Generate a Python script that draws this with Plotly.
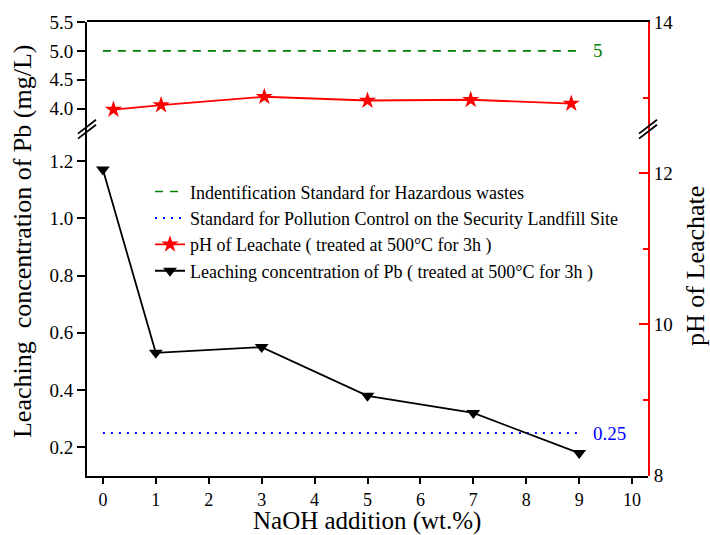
import plotly.graph_objects as go

# ---- data ----
naoh_pb = [0, 1, 3, 5, 7, 9]
pb_conc = [1.17, 0.53, 0.55, 0.38, 0.32, 0.18]
naoh_ph = [0.2, 1.1, 3.05, 5.0, 6.95, 8.85]
ph_leachate = [12.84, 12.90, 13.01, 12.96, 12.97, 12.92]
std_x = [0, 9]
hazardous_std = 5.0
landfill_std = 0.25
x_ticks = list(range(0, 11))
names = [
    "Indentification Standard for Hazardous wastes",
    "Standard for Pollution Control on the Security Landfill Site",
    "pH of Leachate ( treated at 500\u00b0C for 3h )",
    "Leaching concentration of Pb ( treated at 500\u00b0C for 3h )",
]

FONT = "Liberation Serif, Times New Roman, serif"
W, H = 710, 535
ML, MR, MT, MB = 87, 62, 20, 59
PW, PH = W - ML - MR, H - MT - MB
DBRK = 0.764  # break position (paper fraction)

fig = go.Figure()

fig.add_trace(go.Scatter(x=std_x, y=[hazardous_std] * 2, xaxis="x", yaxis="y2",
                         mode="lines", name=names[0],
                         line=dict(color="#008000", width=1.6, dash="8px,7px")))
fig.add_trace(go.Scatter(x=std_x, y=[landfill_std] * 2, xaxis="x", yaxis="y",
                         mode="lines", name=names[1],
                         line=dict(color="#0000ff", width=2, dash="2px,6px")))
fig.add_trace(go.Scatter(x=naoh_ph, y=ph_leachate, xaxis="x2", yaxis="y3",
                         mode="lines+markers", name=names[2],
                         line=dict(color="#ff0000", width=1.8),
                         marker=dict(symbol="star", size=13, color="#ff0000")))
fig.add_trace(go.Scatter(x=naoh_pb, y=pb_conc, xaxis="x", yaxis="y",
                         mode="lines+markers", name=names[3],
                         line=dict(color="black", width=1.8),
                         marker=dict(symbol="triangle-down", size=12, color="black")))

def tf(size=19):
    return dict(family=FONT, size=size, color="black")

xr = [-0.3, 10.3]

fig.update_layout(
    width=W, height=H,
    margin=dict(l=ML, r=MR, t=MT, b=MB),
    paper_bgcolor="white", plot_bgcolor="rgba(0,0,0,0)",
    font=dict(family=FONT, color="black"),
    showlegend=True,
    legend=dict(x=(150 - ML) / PW, y=(476 - 172) / PH, xanchor="left", yanchor="top",
                bgcolor="rgba(0,0,0,0)", font=dict(family=FONT, size=18, color="black"),
                tracegroupgap=0),
    xaxis=dict(domain=[0, 1], range=xr, anchor="y", tickvals=x_ticks,
               ticks="outside", ticklen=6, tickwidth=2, tickcolor="black",
               showline=True, linecolor="black", linewidth=2,
               showgrid=False, zeroline=False, tickfont=tf(18)),
    xaxis2=dict(domain=[0, 1], range=xr, anchor="y3", overlaying="x", side="top",
                showline=True, linecolor="black", linewidth=2, ticks="",
                showticklabels=False, showgrid=False, zeroline=False),
    yaxis=dict(domain=[0, DBRK], range=[0.1, 1.311], anchor="x",
               tickvals=[0.2, 0.4, 0.6, 0.8, 1.0, 1.2], tickformat=".1f",
               ticks="outside", ticklen=8, tickwidth=2, tickcolor="black",
               showline=True, linecolor="black", linewidth=2,
               showgrid=False, zeroline=False, tickfont=tf()),
    yaxis2=dict(domain=[DBRK, 1], range=[3.643, 5.5], anchor="x",
                tickvals=[4.0, 4.5, 5.0, 5.5], tickformat=".1f",
                ticks="outside", ticklen=8, tickwidth=2, tickcolor="black",
                showline=True, linecolor="black", linewidth=2,
                showgrid=False, zeroline=False, tickfont=tf()),
    yaxis3=dict(domain=[0, 1], range=[7.987, 14.0], anchor="x2", side="right",
                tickvals=[8, 10, 12, 14],
                ticks="inside", ticklen=9, tickwidth=2, tickcolor="#ff0000",
                minor=dict(tickvals=[9, 11, 13], ticks="inside", ticklen=5,
                           tickwidth=2, tickcolor="#ff0000"),
                showline=True, linecolor="#ff0000", linewidth=2,
                showgrid=False, zeroline=False, tickfont=tf()),
)

# value labels for the standard lines
fig.add_annotation(x=9.22, y=hazardous_std, xref="x", yref="y2", text=str(int(hazardous_std)),
                   showarrow=False, xanchor="left", font=dict(family=FONT, size=19, color="#008000"))
fig.add_annotation(x=9.22, y=landfill_std, xref="x", yref="y", text=str(landfill_std),
                   showarrow=False, xanchor="left", font=dict(family=FONT, size=19, color="#0000ff"))

# axis titles
title_font = dict(family=FONT, size=26, color="black")
fig.add_annotation(x=(22 - ML) / PW, y=(476 - 241) / PH, xref="paper", yref="paper",
                   xanchor="center", yanchor="middle",
                   text="Leaching \u00a0concentration of Pb (mg/L)", textangle=-90,
                   showarrow=False, font=title_font)
fig.add_annotation(x=(696 - ML) / PW, y=(476 - 265) / PH, xref="paper", yref="paper",
                   xanchor="center", yanchor="middle",
                   text="pH of Leachate", textangle=-90,
                   showarrow=False, font=title_font)
fig.add_annotation(x=(367 - ML) / PW, y=(476 - 521) / PH, xref="paper", yref="paper",
                   xanchor="center", yanchor="middle", borderpad=0,
                   text="NaOH addition (wt.%)", showarrow=False,
                   font=dict(family=FONT, size=25, color="black"))

# axis-break marks
def brk(px_x):
    xc = (px_x - ML) / PW
    for off in (-2.5, 2.5):
        yc = DBRK + off / PH
        fig.add_shape(type="line", xref="paper", yref="paper",
                      x0=xc - 9 / PW, y0=yc - 7 / PH, x1=xc + 9 / PW, y1=yc + 7 / PH,
                      line=dict(color="black", width=1.8))

brk(ML)
brk(ML + PW)

fig.write_html("out.html")
